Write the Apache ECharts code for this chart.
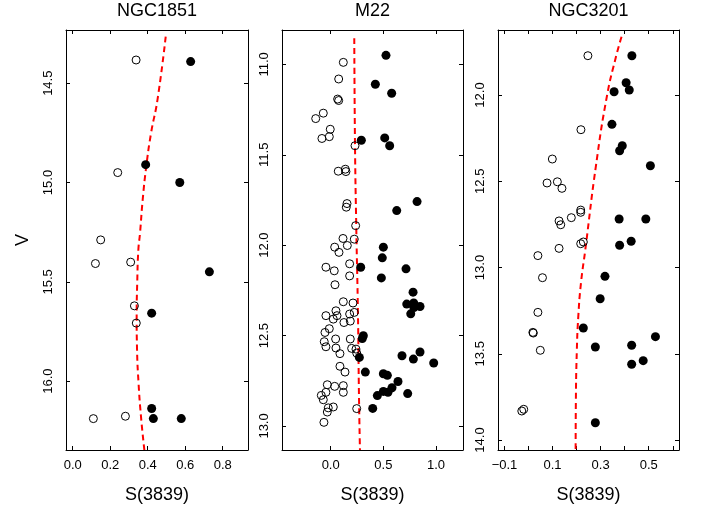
<!DOCTYPE html>
<html>
<head>
<meta charset="utf-8">
<script src="https://cdn.jsdelivr.net/npm/echarts@6/dist/echarts.min.js"></script>
<style>
html,body{margin:0;padding:0;background:#fff;}
#chart{width:702px;height:515px;}
</style>
</head>
<body>
<div id="chart"></div>
<script>
// ---------- data ----------
const panelTitles = ['NGC1851', 'M22', 'NGC3201'];
const xAxisTitle = 'S(3839)';
const yAxisTitle = 'V';

// NGC1851
const ngc1851Open = [[0.338,14.383],[0.24,14.95],[0.149,15.289],[0.121,15.408],[0.309,15.401],[0.329,15.621],[0.339,15.708],[0.11,16.189],[0.281,16.177]];
const ngc1851Filled = [[0.629,14.391],[0.389,14.91],[0.571,15.0],[0.729,15.45],[0.421,15.658],[0.421,16.138],[0.43,16.189],[0.579,16.189]];
const ngc1851Line = [[0.496,14.265],[0.452,14.584],[0.418,14.75],[0.392,14.921],[0.373,15.088],[0.359,15.254],[0.350,15.339],[0.344,15.505],[0.341,15.671],[0.343,15.84],[0.351,16.009],[0.364,16.178],[0.382,16.347]];

// M22
const m22Open = [[0.12,10.989],[0.076,11.081],[0.066,11.192],[0.076,11.2],[-0.07,11.27],[-0.142,11.3],[-0.004,11.359],[-0.083,11.41],[-0.013,11.4],[0.231,11.45],[0.072,11.591],[0.139,11.58],[0.145,11.593],[0.155,11.77],[0.148,11.79],[0.237,11.892],[0.117,11.963],[0.224,11.967],[0.038,12.011],[0.158,12.002],[0.079,12.04],
  [-0.045,12.122],[0.034,12.142],[0.18,12.103],[0.18,12.17],[0.041,12.219],[0.12,12.313],[0.212,12.32],[0.05,12.363],[0.224,12.372],[-0.045,12.39],[0.06,12.39],[0.025,12.409],[0.18,12.381],[0.126,12.428],[0.186,12.42],[-0.013,12.462],[-0.054,12.483],[0.186,12.519],[0.047,12.519],[-0.061,12.534],[-0.045,12.562],[0.05,12.569],[0.199,12.571],[0.24,12.575],[0.088,12.6],[0.247,12.597],[0.088,12.67],[0.136,12.702],[-0.032,12.772],[0.038,12.781],[0.12,12.777],[0.12,12.814],[-0.045,12.814],[-0.089,12.831],[-0.07,12.855],[-0.023,12.9],[0.025,12.895],[-0.032,12.923],[0.247,12.904],[-0.064,12.98]];
const m22Filled = [[0.525,10.95],[0.424,11.11],[0.579,11.16],[0.291,11.42],[0.513,11.407],[0.56,11.45],[0.82,11.759],[0.627,11.809],[0.5,12.011],
  [0.49,12.07],[0.285,12.122],[0.715,12.131],[0.481,12.181],[0.782,12.26],[0.722,12.326],[0.788,12.32],[0.848,12.339],[0.76,12.38],[0.79,12.345],[0.31,12.501],[0.3,12.516],[0.677,12.612],[0.785,12.63],[0.848,12.591],[0.978,12.652],[0.272,12.621],[0.329,12.702],[0.5,12.711],[0.538,12.72],[0.639,12.754],[0.582,12.789],[0.544,12.814],[0.5,12.809],[0.443,12.832],[0.731,12.821],[0.399,12.903]];
const m22Line = [[0.224,10.855],[0.231,11.45],[0.243,11.9],[0.259,12.38],[0.269,12.85],[0.278,13.133]];

// NGC3201
const ngc3201Open = [[0.247,11.772],[0.218,12.201],[0.099,12.371],[0.077,12.51],[0.12,12.503],[0.139,12.541],[0.217,12.667],[0.217,12.68],[0.178,12.711],[0.127,12.73],[0.134,12.752],[0.217,12.862],[0.228,12.852],[0.127,12.889],[0.039,12.931],[0.058,13.059],[0.039,13.26],[0.018,13.376],[0.02,13.38],[0.049,13.48],[-0.028,13.832],[-0.02,13.822]];
const ngc3201Filled = [[0.43,11.772],[0.406,11.929],[0.419,11.971],[0.356,11.981],[0.347,12.17],[0.39,12.294],[0.379,12.323],[0.507,12.41],[0.377,12.719],[0.488,12.719],[0.427,12.848],[0.379,12.871],[0.318,13.051],[0.298,13.181],[0.228,13.351],[0.278,13.461],[0.429,13.451],[0.528,13.401],[0.429,13.561],[0.477,13.54],[0.278,13.9]];
const ngc3201Line = [[0.387,11.662],[0.364,11.777],[0.327,12.0],[0.28,12.415],[0.236,12.899],[0.218,13.092],[0.207,13.285],[0.201,13.478],[0.197,13.768],[0.196,14.058]];

// tick values
const ngc1851XTicks = [0.0,0.2,0.4,0.6,0.8];
const ngc1851YTicks = [14.5,15.0,15.5,16.0];
const m22XTicks = [0.0,0.5,1.0];
const m22YTicks = [11.0,11.5,12.0,12.5,13.0];
const ngc3201XTicks = [-0.1,0.0,0.1,0.2,0.3,0.4,0.5,0.6];
const ngc3201XLabels = [-0.1,0.1,0.3,0.5];
const ngc3201YTicks = [12.0,12.5,13.0,13.5,14.0];

// ---------- layout ----------
const FONT = 'Liberation Sans, Arial, Helvetica, sans-serif';
const panels = [
  {left:66, width:182, xr:[-0.036,0.935], yr:[14.232,16.347], xt:ngc1851XTicks, xl:ngc1851XTicks, yt:ngc1851YTicks, open:ngc1851Open, filled:ngc1851Filled, line:ngc1851Line},
  {left:282, width:181, xr:[-0.462,1.256], yr:[10.81,13.133], xt:m22XTicks, xl:m22XTicks, yt:m22YTicks, open:m22Open, filled:m22Filled, line:m22Line},
  {left:498, width:181, xr:[-0.127,0.626], yr:[11.623,14.058], xt:ngc3201XTicks, xl:ngc3201XLabels, yt:ngc3201YTicks, open:ngc3201Open, filled:ngc3201Filled, line:ngc3201Line}
];
const TOP = 30, HEIGHT = 420;
const fmt = v => (Math.round(v*10)/10).toFixed(1).replace('-', '\u2212');

const grids = [], xAxes = [], yAxes = [], series = [], titles = [];
panels.forEach((p, i) => {
  grids.push({left:p.left, top:TOP, width:p.width, height:HEIGHT, show:false});
  titles.push({text:panelTitles[i], left:p.left + p.width/2, top:2, textAlign:'center', padding:0,
    textStyle:{fontSize:18, fontWeight:'normal', fontFamily:FONT, color:'#000'}});
  const tickStyle = {show:true, inside:true, length:4, lineStyle:{color:'#000', width:1}};
  const axLine = {show:true, onZero:false, lineStyle:{color:'#000', width:1}};
  // bottom x
  xAxes.push({type:'value', gridIndex:i, position:'bottom', min:p.xr[0], max:p.xr[1],
    axisLine:axLine, splitLine:{show:false},
    axisTick:Object.assign({customValues:p.xt}, tickStyle),
    axisLabel:{customValues:p.xl, formatter:fmt, fontSize:13, fontFamily:FONT, color:'#000', margin:9},
    name:xAxisTitle, nameLocation:'middle', nameGap:36,
    nameTextStyle:{fontSize:18, fontFamily:FONT, color:'#000'}});
  // top x (ticks only)
  xAxes.push({type:'value', gridIndex:i, position:'top', min:p.xr[0], max:p.xr[1],
    axisLine:axLine, splitLine:{show:false},
    axisTick:Object.assign({customValues:p.xt}, tickStyle),
    axisLabel:{show:false}});
  // left y
  const yl = {type:'value', gridIndex:i, position:'left', inverse:true, min:p.yr[0], max:p.yr[1],
    axisLine:axLine, splitLine:{show:false},
    axisTick:Object.assign({customValues:p.yt}, tickStyle),
    axisLabel:{customValues:p.yt, formatter:fmt, rotate:90, fontSize:13, fontFamily:FONT, color:'#000', margin:11}};
  if (i === 0) {
    yl.name = yAxisTitle; yl.nameLocation = 'middle'; yl.nameGap = 34; yl.nameRotate = 90;
    yl.nameTextStyle = {fontSize:18, fontFamily:FONT, color:'#000'};
  }
  yAxes.push(yl);
  // right y (ticks only)
  yAxes.push({type:'value', gridIndex:i, position:'right', inverse:true, min:p.yr[0], max:p.yr[1],
    axisLine:axLine, splitLine:{show:false},
    axisTick:Object.assign({customValues:p.yt}, tickStyle),
    axisLabel:{show:false}});

  series.push({type:'line', xAxisIndex:2*i, yAxisIndex:2*i, data:p.line, smooth:true, showSymbol:false, symbol:'none',
    lineStyle:{color:'#FF0000', width:2, type:[6,4]}, z:1, silent:true, animation:false});
  series.push({type:'scatter', xAxisIndex:2*i, yAxisIndex:2*i, data:p.open, symbol:'circle', symbolSize:8,
    itemStyle:{color:'rgba(0,0,0,0)', borderColor:'#000', borderWidth:1, opacity:1}, z:2, animation:false});
  series.push({type:'scatter', xAxisIndex:2*i, yAxisIndex:2*i, data:p.filled, symbol:'circle', symbolSize:9,
    itemStyle:{color:'#000', opacity:1}, z:3, animation:false});
});

const chart = echarts.init(document.getElementById('chart'), null, {renderer:'canvas'});
chart.setOption({
  backgroundColor:'#fff',
  animation:false,
  title:titles,
  grid:grids,
  xAxis:xAxes,
  yAxis:yAxes,
  series:series
});
</script>
</body>
</html>
